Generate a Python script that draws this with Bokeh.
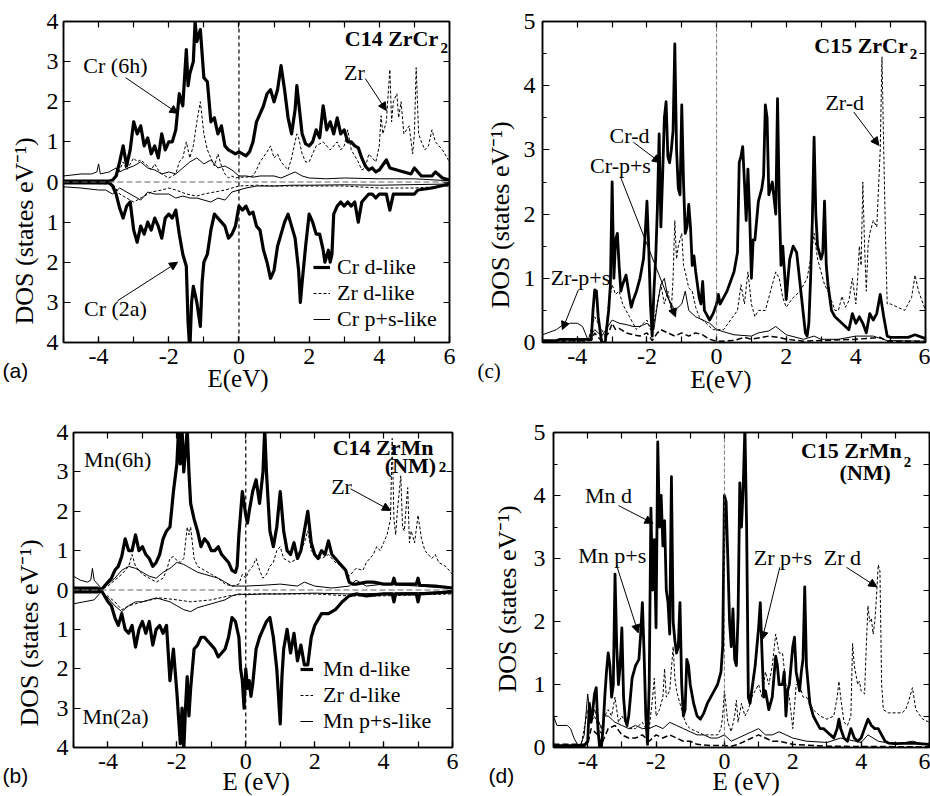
import numpy as np
from bokeh.plotting import figure
from bokeh.models import (Range1d, LinearAxis, FixedTicker, Label, Arrow, NormalHead,
                          Span, Legend, LegendItem, Title)
from bokeh.layouts import column, row
from bokeh.embed import file_html
from bokeh.resources import INLINE

SERIF = "Liberation Serif"
SANS = "Liberation Sans"

# ---------------- tick definitions ----------------
X_TICKS = [-4, -2, 0, 2, 4, 6]
X_LABELS = ["-4", "-2", "0", "2", "4", "6"]
X_MINOR = [-5, -4, -3, -2, -1, 0, 1, 2, 3, 4, 5, 6]
AB_Y_TICKS = [-4, -3, -2, -1, 0, 1, 2, 3, 4]
AB_Y_LABELS = ["4", "3", "2", "1", "0", "1", "2", "3", "4"]
CD_Y_TICKS = [0, 1, 2, 3, 4, 5]
CD_Y_MINOR = [0, 0.5, 1, 1.5, 2, 2.5, 3, 3.5, 4, 4.5, 5]

# ---------------- panel (a) C14 ZrCr2 : (E, DOS) ----------------
A_UP_CRD = [(-5, 0.02), (-3.7, 0.02), (-3.6, 0.05), (-3.5, 0.15), (-3.4, 0.5), (-3.3, 0.9), (-3.2, 0.4),
            (-3.1, 0.8), (-3.0, 1.5), (-2.9, 1.2), (-2.8, 1.4), (-2.7, 0.9), (-2.6, 1.1), (-2.5, 0.7),
            (-2.4, 0.9), (-2.3, 0.6), (-2.2, 1.2), (-2.1, 0.8), (-2.0, 1.0), (-1.9, 1.0), (-1.8, 1.3),
            (-1.7, 2.2), (-1.6, 1.9), (-1.5, 3.3), (-1.45, 2.4), (-1.4, 2.7), (-1.3, 3.0), (-1.25, 4.0),
            (-1.2, 3.5), (-1.1, 3.8), (-1.0, 2.6), (-0.9, 2.5), (-0.8, 1.5), (-0.7, 1.6), (-0.6, 1.2),
            (-0.5, 1.4), (-0.4, 0.9), (-0.3, 0.8), (-0.2, 0.75), (-0.1, 0.7), (0.0, 0.75), (0.1, 0.7),
            (0.2, 0.65), (0.3, 0.75), (0.4, 1.0), (0.5, 1.5), (0.6, 1.7), (0.7, 1.9), (0.8, 2.2),
            (0.9, 2.3), (1.0, 2.0), (1.1, 2.3), (1.2, 2.9), (1.3, 2.3), (1.4, 1.6), (1.5, 1.2),
            (1.6, 1.8), (1.65, 2.4), (1.7, 2.0), (1.8, 1.2), (1.9, 0.95), (2.0, 0.9), (2.1, 1.0),
            (2.2, 1.3), (2.3, 1.1), (2.4, 1.9), (2.5, 1.3), (2.6, 1.5), (2.7, 1.2), (2.8, 1.6),
            (2.9, 1.2), (3.0, 1.3), (3.1, 1.0), (3.2, 1.0), (3.3, 0.9), (3.4, 0.85), (3.5, 0.6),
            (3.6, 0.4), (3.7, 0.3), (3.8, 0.35), (3.9, 0.25), (4.0, 0.3), (4.2, 0.55), (4.3, 0.35),
            (4.5, 0.3), (4.7, 0.25), (4.9, 0.2), (5.0, 0.35), (5.2, 0.15), (5.5, 0.15), (5.6, 0.25),
            (5.8, 0.1), (6.0, 0.05)]
A_UP_ZRD = [(-5, 0.02), (-3.6, 0.03), (-3.5, 0.1), (-3.4, 0.3), (-3.3, 0.5), (-3.2, 0.3), (-3.0, 0.6),
            (-2.9, 0.5), (-2.8, 0.55), (-2.6, 0.4), (-2.5, 0.3), (-2.4, 0.45), (-2.3, 0.3), (-2.2, 0.2),
            (-2.1, 0.15), (-2.0, 0.1), (-1.8, 0.2), (-1.7, 0.5), (-1.6, 0.6), (-1.5, 1.0), (-1.4, 0.6),
            (-1.3, 0.9), (-1.2, 1.5), (-1.1, 2.0), (-1.0, 1.2), (-0.9, 0.8), (-0.8, 0.6), (-0.7, 0.4),
            (-0.6, 0.7), (-0.5, 0.4), (-0.4, 0.2), (-0.3, 0.1), (-0.2, 0.15), (-0.1, 0.1), (0.0, 0.12),
            (0.2, 0.12), (0.4, 0.15), (0.5, 0.3), (0.6, 0.5), (0.8, 0.75), (0.9, 0.9), (1.0, 0.6),
            (1.1, 0.7), (1.2, 0.5), (1.3, 0.4), (1.4, 0.3), (1.5, 0.6), (1.6, 1.0), (1.65, 1.2),
            (1.7, 1.1), (1.8, 0.7), (1.9, 0.5), (2.0, 0.5), (2.2, 0.9), (2.4, 1.0), (2.6, 0.8),
            (2.8, 1.0), (2.9, 0.8), (3.0, 0.9), (3.1, 1.3), (3.2, 0.8), (3.4, 0.5), (3.5, 0.3),
            (3.6, 0.35), (3.7, 0.7), (3.8, 0.6), (3.9, 0.5), (4.0, 0.9), (4.05, 1.65), (4.1, 1.2),
            (4.2, 1.5), (4.3, 2.8), (4.35, 1.5), (4.4, 2.0), (4.5, 2.2), (4.55, 1.6), (4.62, 2.0),
            (4.7, 1.2), (4.85, 1.4), (4.95, 0.7), (5.0, 1.2), (5.05, 2.85), (5.12, 1.2), (5.2, 1.0),
            (5.3, 0.8), (5.4, 0.9), (5.5, 1.3), (5.6, 1.0), (5.8, 0.8), (6.0, 0.5)]
A_UP_CRPS = [(-5, 0.15), (-4.5, 0.2), (-4.2, 0.2), (-4.05, 0.25), (-4.0, 0.45), (-3.95, 0.2), (-3.7, 0.25),
             (-3.5, 0.35), (-3.4, 0.25), (-3.3, 0.3), (-3.0, 0.4), (-2.8, 0.5), (-2.6, 0.35), (-2.4, 0.3),
             (-2.2, 0.2), (-2.0, 0.25), (-1.8, 0.2), (-1.6, 0.35), (-1.4, 0.5), (-1.2, 0.6), (-1.0, 0.45),
             (-0.8, 0.55), (-0.6, 0.35), (-0.4, 0.4), (-0.2, 0.3), (0.0, 0.15), (0.2, 0.15), (0.4, 0.12),
             (0.6, 0.15), (1.0, 0.15), (1.2, 0.1), (1.6, 0.25), (1.8, 0.15), (2.0, 0.1), (2.5, 0.08),
             (3.0, 0.1), (4.0, 0.08), (5.0, 0.08), (6.0, 0.03)]
A_DN_CRD = [(-5, 0.02), (-3.7, 0.02), (-3.6, 0.1), (-3.5, 0.3), (-3.4, 0.65), (-3.3, 0.9), (-3.2, 0.6),
            (-3.1, 0.5), (-3.0, 1.2), (-2.9, 1.5), (-2.8, 1.1), (-2.7, 1.3), (-2.6, 1.0), (-2.5, 1.2),
            (-2.4, 0.9), (-2.3, 1.1), (-2.2, 1.4), (-2.1, 0.9), (-2.0, 0.8), (-1.9, 0.9), (-1.8, 0.7),
            (-1.7, 1.3), (-1.6, 1.8), (-1.5, 2.1), (-1.45, 3.5), (-1.4, 4.2), (-1.35, 3.0), (-1.3, 2.6),
            (-1.2, 3.0), (-1.1, 3.6), (-1.05, 2.5), (-1.0, 2.0), (-0.9, 1.8), (-0.8, 1.2), (-0.7, 0.8),
            (-0.6, 0.9), (-0.5, 1.0), (-0.4, 1.1), (-0.3, 1.4), (-0.2, 1.3), (-0.1, 1.1), (0.0, 0.6),
            (0.1, 0.7), (0.2, 0.6), (0.3, 0.8), (0.4, 0.75), (0.5, 1.1), (0.6, 1.2), (0.7, 1.7),
            (0.8, 2.0), (0.9, 2.4), (1.0, 2.2), (1.1, 1.6), (1.2, 1.3), (1.3, 1.0), (1.4, 0.8),
            (1.5, 1.1), (1.6, 1.4), (1.7, 2.2), (1.75, 3.0), (1.8, 2.5), (1.9, 1.6), (2.0, 0.8),
            (2.1, 1.0), (2.2, 1.3), (2.3, 1.3), (2.4, 1.7), (2.45, 2.0), (2.55, 1.7), (2.6, 2.0),
            (2.65, 1.8), (2.7, 0.8), (2.8, 0.6), (2.9, 0.5), (3.0, 0.6), (3.1, 0.5), (3.2, 0.6),
            (3.3, 0.5), (3.4, 1.0), (3.5, 0.5), (3.6, 0.4), (3.7, 0.3), (3.8, 0.3), (3.9, 0.4),
            (4.0, 0.3), (4.2, 0.3), (4.3, 0.7), (4.4, 0.3), (4.6, 0.3), (5.0, 0.3), (5.1, 0.2),
            (5.5, 0.15), (6.0, 0.05)]
A_DN_CRPS = [(-5, 0.12), (-4.5, 0.15), (-4.0, 0.2), (-3.8, 0.2), (-3.6, 0.3), (-3.4, 0.15), (-3.3, 0.2),
             (-3.0, 0.35), (-2.8, 0.45), (-2.6, 0.25), (-2.4, 0.3), (-2.2, 0.3), (-2.0, 0.3), (-1.8, 0.4),
             (-1.6, 0.35), (-1.4, 0.4), (-1.2, 0.4), (-1.0, 0.45), (-0.8, 0.5), (-0.6, 0.4), (-0.4, 0.45),
             (-0.2, 0.25), (0.0, 0.2), (0.2, 0.15), (0.5, 0.1), (1.0, 0.1), (1.5, 0.08), (2.0, 0.08),
             (3.0, 0.07), (4.0, 0.08), (6.0, 0.05)]
A_DN_ZRD = [(-5, 0.02), (-3.6, 0.05), (-3.4, 0.3), (-3.2, 0.4), (-3.0, 0.5), (-2.9, 0.45), (-2.7, 0.35),
            (-2.5, 0.25), (-2.2, 0.2), (-2.0, 0.15), (-1.8, 0.2), (-1.5, 0.3), (-1.2, 0.35), (-1.0, 0.3),
            (-0.7, 0.25), (-0.4, 0.2), (0.0, 0.1), (0.5, 0.08), (1.0, 0.1), (2.0, 0.1), (3.0, 0.1),
            (4.0, 0.15), (5.0, 0.15), (6.0, 0.1)]

# ---------------- panel (b) C14 ZrMn2 (NM) ----------------
B_UP_MND = [(-5, 0.05), (-4.3, 0.05), (-4.2, 0.0), (-4.0, 0.2), (-3.9, 0.3), (-3.8, 0.5), (-3.7, 0.6),
            (-3.6, 0.85), (-3.5, 1.3), (-3.4, 1.0), (-3.3, 1.0), (-3.2, 1.4), (-3.1, 1.0), (-3.0, 1.1),
            (-2.9, 0.9), (-2.8, 0.8), (-2.7, 0.6), (-2.6, 0.7), (-2.5, 0.9), (-2.4, 1.3), (-2.3, 1.5),
            (-2.2, 1.6), (-2.1, 2.5), (-2.0, 3.2), (-1.95, 4.1), (-1.9, 3.2), (-1.85, 4.1), (-1.8, 3.0),
            (-1.75, 3.5), (-1.7, 4.1), (-1.65, 3.0), (-1.6, 2.2), (-1.5, 1.8), (-1.4, 1.5), (-1.3, 1.1),
            (-1.2, 1.3), (-1.1, 1.2), (-1.0, 1.0), (-0.9, 1.0), (-0.8, 1.1), (-0.7, 0.9), (-0.6, 0.8),
            (-0.5, 0.7), (-0.4, 0.5), (-0.3, 0.45), (-0.25, 0.6), (-0.2, 1.4), (-0.1, 2.5), (0.0, 1.9),
            (0.05, 1.7), (0.1, 2.0), (0.2, 2.5), (0.3, 2.8), (0.4, 2.2), (0.5, 3.0), (0.55, 4.1),
            (0.6, 3.0), (0.7, 1.5), (0.8, 1.1), (0.9, 1.6), (1.0, 2.5), (1.1, 1.5), (1.2, 1.0),
            (1.3, 0.9), (1.4, 1.2), (1.5, 0.8), (1.6, 1.0), (1.7, 1.5), (1.8, 2.0), (1.9, 1.2),
            (2.0, 0.9), (2.1, 0.8), (2.2, 1.0), (2.3, 0.9), (2.4, 1.25), (2.5, 0.9), (2.6, 0.8),
            (2.7, 0.7), (2.8, 0.6), (2.9, 0.5), (3.0, 0.2), (3.1, 0.15), (3.2, 0.15), (3.5, 0.2),
            (3.7, 0.2), (4.0, 0.15), (4.25, 0.15), (4.3, 0.3), (4.35, 0.15), (4.8, 0.15), (4.95, 0.15),
            (5.0, 0.3), (5.05, 0.12), (5.5, 0.1), (6.0, 0.05)]
B_UP_ZRD = [(-5, 0.02), (-4.2, 0.02), (-4.0, 0.1), (-3.8, 0.25), (-3.6, 0.4), (-3.5, 0.5), (-3.4, 0.6),
            (-3.3, 0.9), (-3.2, 0.6), (-3.1, 0.5), (-3.0, 0.4), (-2.8, 0.3), (-2.6, 0.2), (-2.4, 0.3),
            (-2.3, 0.5), (-2.2, 0.8), (-2.1, 0.85), (-2.0, 0.75), (-1.9, 0.7), (-1.8, 0.8), (-1.7, 1.6),
            (-1.65, 1.4), (-1.6, 1.6), (-1.5, 0.8), (-1.4, 0.6), (-1.2, 0.5), (-1.0, 0.4), (-0.8, 0.3),
            (-0.6, 0.15), (-0.4, 0.1), (-0.2, 0.15), (-0.1, 0.4), (0.0, 0.3), (0.1, 0.5), (0.2, 0.6),
            (0.3, 0.8), (0.4, 0.5), (0.5, 0.3), (0.6, 0.4), (0.7, 0.6), (0.8, 0.7), (0.9, 1.0),
            (1.0, 1.1), (1.1, 0.8), (1.3, 0.7), (1.5, 0.8), (1.7, 1.2), (1.8, 1.5), (1.9, 1.0),
            (2.0, 0.9), (2.2, 0.8), (2.4, 0.9), (2.6, 0.7), (2.8, 0.6), (2.9, 0.5), (3.0, 0.35),
            (3.2, 0.55), (3.4, 0.5), (3.5, 0.7), (3.6, 0.8), (3.7, 0.9), (3.8, 1.1), (3.9, 1.0),
            (4.0, 1.2), (4.1, 1.4), (4.2, 1.8), (4.25, 3.85), (4.3, 1.8), (4.35, 1.4), (4.4, 2.0),
            (4.5, 2.9), (4.55, 1.6), (4.6, 1.5), (4.7, 2.6), (4.75, 1.2), (4.8, 1.5), (4.9, 1.2),
            (5.0, 1.9), (5.05, 1.6), (5.1, 1.3), (5.2, 1.0), (5.4, 0.8), (5.5, 0.9), (5.6, 0.7),
            (5.8, 0.6), (6.0, 0.4)]
B_UP_MNPS = [(-5, 0.35), (-4.8, 0.25), (-4.6, 0.2), (-4.5, 0.25), (-4.45, 0.55), (-4.4, 0.25), (-4.3, 0.15),
             (-4.2, 0.05), (-4.0, 0.15), (-3.8, 0.3), (-3.6, 0.5), (-3.4, 0.6), (-3.2, 0.55), (-3.0, 0.45),
             (-2.8, 0.35), (-2.6, 0.3), (-2.4, 0.45), (-2.2, 0.55), (-2.0, 0.7), (-1.8, 0.65), (-1.7, 0.6),
             (-1.6, 0.55), (-1.4, 0.45), (-1.2, 0.4), (-1.0, 0.35), (-0.8, 0.3), (-0.6, 0.2), (-0.4, 0.1),
             (-0.2, 0.1), (0.0, 0.1), (0.5, 0.12), (1.0, 0.15), (1.5, 0.1), (1.7, 0.2), (2.0, 0.1),
             (2.5, 0.05), (3.0, 0.1), (3.2, 0.25), (3.5, 0.1), (4.0, 0.15), (5.0, 0.1), (6.0, 0.05)]
B_DN_MND = [(-5, 0.05), (-4.3, 0.05), (-4.2, 0.0), (-4.0, 0.3), (-3.9, 0.4), (-3.8, 0.7), (-3.7, 0.9),
            (-3.6, 0.6), (-3.5, 1.0), (-3.4, 1.1), (-3.3, 0.9), (-3.2, 1.45), (-3.1, 1.0), (-3.0, 0.8),
            (-2.9, 1.1), (-2.8, 0.8), (-2.7, 1.4), (-2.6, 1.0), (-2.5, 0.9), (-2.4, 1.1), (-2.3, 0.9),
            (-2.2, 2.3), (-2.1, 1.5), (-2.0, 2.6), (-1.9, 3.9), (-1.85, 3.0), (-1.8, 4.1), (-1.75, 3.0),
            (-1.7, 2.2), (-1.65, 3.2), (-1.6, 2.5), (-1.5, 1.5), (-1.4, 1.4), (-1.3, 1.2), (-1.2, 1.2),
            (-1.1, 1.3), (-1.0, 1.4), (-0.9, 1.5), (-0.8, 1.7), (-0.7, 1.6), (-0.6, 1.5), (-0.5, 1.2),
            (-0.4, 0.7), (-0.3, 0.8), (-0.2, 1.2), (-0.15, 2.0), (-0.1, 2.3), (-0.05, 3.0), (0.0, 2.0),
            (0.05, 2.5), (0.1, 2.3), (0.15, 2.7), (0.2, 2.4), (0.3, 1.5), (0.4, 1.2), (0.5, 1.0),
            (0.6, 0.8), (0.7, 0.7), (0.8, 1.2), (0.9, 2.0), (1.0, 3.4), (1.05, 2.2), (1.1, 1.5),
            (1.2, 1.0), (1.3, 1.6), (1.4, 1.1), (1.5, 1.8), (1.6, 1.4), (1.7, 1.9), (1.8, 1.9),
            (1.9, 1.2), (2.0, 0.9), (2.2, 0.6), (2.4, 0.6), (2.6, 0.5), (2.8, 0.3), (3.0, 0.15),
            (3.2, 0.1), (3.5, 0.15), (4.0, 0.1), (4.25, 0.1), (4.3, 0.3), (4.35, 0.1), (4.95, 0.1),
            (5.0, 0.3), (5.05, 0.1), (6.0, 0.05)]
B_DN_MNPS = [(-5, 0.35), (-4.7, 0.3), (-4.4, 0.25), (-4.2, 0.05), (-4.0, 0.2), (-3.8, 0.4), (-3.6, 0.55),
             (-3.4, 0.4), (-3.2, 0.3), (-3.0, 0.3), (-2.8, 0.25), (-2.6, 0.2), (-2.4, 0.25), (-2.2, 0.3),
             (-2.0, 0.4), (-1.8, 0.5), (-1.6, 0.55), (-1.4, 0.45), (-1.2, 0.4), (-1.0, 0.35), (-0.8, 0.3),
             (-0.6, 0.25), (-0.4, 0.15), (-0.2, 0.1), (0.0, 0.12), (0.5, 0.1), (1.0, 0.1), (2.0, 0.08),
             (3.0, 0.1), (6.0, 0.05)]
B_DN_ZRD = [(-5, 0.02), (-4.2, 0.02), (-3.8, 0.3), (-3.6, 0.5), (-3.4, 0.4), (-3.0, 0.3), (-2.5, 0.2),
            (-2.0, 0.25), (-1.6, 0.3), (-1.0, 0.25), (-0.5, 0.15), (0.0, 0.1), (1.0, 0.1), (2.0, 0.1),
            (3.0, 0.15), (4.0, 0.15), (5.0, 0.12), (6.0, 0.1)]

# ---------------- panel (c) C15 ZrCr2 ----------------
C_CRD = [(-5, 0.03), (-4.6, 0.03), (-4.5, 0.05), (-3.6, 0.05), (-3.55, 0.5), (-3.5, 0.82), (-3.45, 0.8),
         (-3.4, 0.4), (-3.35, 0.2), (-3.3, 0.0), (-3.2, 0.0), (-3.1, 0.5), (-3.05, 0.9), (-3.0, 2.5),
         (-2.95, 1.0), (-2.9, 1.6), (-2.85, 1.7), (-2.8, 1.2), (-2.75, 0.8), (-2.7, 0.9), (-2.6, 1.05),
         (-2.5, 0.7), (-2.45, 0.55), (-2.4, 0.65), (-2.3, 0.8), (-2.2, 1.0), (-2.1, 1.3), (-2.05, 1.7),
         (-2.0, 2.2), (-1.95, 1.5), (-1.9, 0.6), (-1.85, 0.1), (-1.8, 0.8), (-1.75, 1.3), (-1.7, 2.1),
         (-1.65, 3.25), (-1.6, 1.8), (-1.55, 2.6), (-1.5, 3.5), (-1.45, 3.75), (-1.4, 2.9), (-1.35, 2.8),
         (-1.3, 3.0), (-1.25, 3.3), (-1.2, 4.65), (-1.15, 3.0), (-1.1, 2.4), (-1.05, 2.3), (-1.0, 3.7),
         (-0.95, 2.5), (-0.9, 1.7), (-0.85, 1.8), (-0.8, 2.15), (-0.75, 1.8), (-0.7, 1.2), (-0.65, 1.35),
         (-0.6, 1.1), (-0.5, 0.7), (-0.45, 0.6), (-0.4, 0.95), (-0.35, 0.5), (-0.3, 0.45), (-0.2, 0.35),
         (-0.1, 0.45), (0.0, 0.6), (0.05, 0.75), (0.1, 0.6), (0.2, 0.7), (0.3, 0.8), (0.4, 0.95),
         (0.5, 1.1), (0.6, 1.4), (0.65, 2.8), (0.7, 2.9), (0.75, 3.05), (0.8, 2.5), (0.85, 1.9),
         (0.9, 2.7), (0.95, 2.0), (1.0, 1.0), (1.05, 1.6), (1.1, 1.6), (1.2, 2.2), (1.3, 2.4),
         (1.35, 2.6), (1.4, 3.7), (1.45, 3.5), (1.5, 2.3), (1.6, 2.5), (1.7, 2.0), (1.75, 3.8),
         (1.8, 2.2), (1.85, 1.2), (1.9, 1.5), (1.95, 1.1), (2.0, 0.67), (2.05, 1.0), (2.1, 1.3),
         (2.2, 1.5), (2.3, 1.4), (2.4, 0.9), (2.5, 0.4), (2.55, 0.15), (2.6, 0.1), (2.65, 0.3),
         (2.7, 1.0), (2.75, 1.9), (2.8, 3.2), (2.85, 2.0), (2.9, 1.5), (3.0, 1.3), (3.05, 1.4),
         (3.1, 2.2), (3.15, 1.2), (3.2, 0.9), (3.3, 0.5), (3.4, 0.4), (3.5, 0.35), (3.6, 0.3),
         (3.7, 0.25), (3.8, 0.2), (3.9, 0.45), (4.0, 0.3), (4.1, 0.4), (4.2, 0.3), (4.3, 0.15),
         (4.4, 0.45), (4.5, 0.35), (4.6, 0.45), (4.7, 0.75), (4.8, 0.4), (4.9, 0.1), (5.0, 0.08),
         (5.5, 0.08), (5.7, 0.12), (6.0, 0.06)]
C_ZRD = [(-5, 0.02), (-3.7, 0.02), (-3.5, 0.4), (-3.4, 0.3), (-3.2, 0.1), (-3.1, 0.6), (-3.0, 0.9),
         (-2.9, 0.75), (-2.8, 0.8), (-2.7, 0.6), (-2.5, 0.4), (-2.3, 0.2), (-2.1, 0.3), (-2.0, 0.35),
         (-1.9, 0.2), (-1.8, 0.3), (-1.7, 0.6), (-1.6, 0.9), (-1.5, 0.6), (-1.4, 0.8), (-1.3, 0.5),
         (-1.25, 1.0), (-1.2, 1.9), (-1.15, 1.3), (-1.1, 1.5), (-1.0, 1.7), (-0.95, 1.2), (-0.9, 1.1),
         (-0.8, 0.85), (-0.7, 0.8), (-0.6, 0.55), (-0.5, 0.4), (-0.4, 0.35), (-0.3, 0.3), (-0.2, 0.25),
         (-0.1, 0.2), (0.0, 0.2), (0.2, 0.2), (0.4, 0.35), (0.6, 0.5), (0.7, 0.9), (0.8, 0.6),
         (0.9, 1.1), (1.0, 0.6), (1.1, 0.4), (1.2, 0.5), (1.4, 0.5), (1.6, 0.9), (1.7, 1.1),
         (1.8, 1.0), (1.9, 0.7), (2.0, 0.55), (2.2, 0.7), (2.4, 0.8), (2.6, 1.0), (2.7, 1.3),
         (2.8, 1.7), (2.9, 1.3), (3.0, 1.1), (3.1, 0.9), (3.2, 0.8), (3.4, 0.5), (3.5, 0.5),
         (3.6, 0.72), (3.7, 0.55), (3.8, 0.65), (3.9, 1.0), (4.0, 0.6), (4.05, 1.0), (4.1, 1.5),
         (4.15, 1.2), (4.2, 2.5), (4.25, 1.5), (4.3, 0.8), (4.35, 1.5), (4.4, 1.7), (4.5, 1.9),
         (4.6, 1.8), (4.7, 3.0), (4.75, 4.45), (4.8, 3.0), (4.85, 1.7), (4.9, 0.6), (5.0, 0.6),
         (5.2, 0.55), (5.4, 0.5), (5.6, 0.7), (5.7, 1.05), (5.8, 0.8), (6.0, 0.5)]
C_ZRPS = [(-5, 0.12), (-4.6, 0.2), (-4.4, 0.28), (-4.2, 0.3), (-4.0, 0.3), (-3.85, 0.25), (-3.7, 0.05),
          (-3.5, 0.2), (-3.3, 0.1), (-3.0, 0.35), (-2.8, 0.3), (-2.6, 0.28), (-2.4, 0.25), (-2.2, 0.25),
          (-2.0, 0.3), (-1.8, 0.2), (-1.7, 0.6), (-1.6, 0.9), (-1.5, 1.0), (-1.4, 0.7), (-1.3, 0.6),
          (-1.2, 0.5), (-1.0, 0.6), (-0.9, 0.8), (-0.8, 0.5), (-0.6, 0.4), (-0.4, 0.35), (-0.2, 0.3),
          (0.0, 0.2), (0.5, 0.12), (1.0, 0.1), (1.2, 0.15), (1.5, 0.18), (1.7, 0.25), (2.0, 0.12),
          (2.5, 0.05), (2.8, 0.1), (3.0, 0.05), (3.5, 0.05), (4.0, 0.1), (4.5, 0.1), (4.9, 0.03),
          (6.0, 0.02)]
C_CRPS = [(-5, 0.02), (-3.6, 0.03), (-3.5, 0.15), (-3.4, 0.08), (-3.3, 0.03), (-3.1, 0.15), (-3.0, 0.3),
          (-2.9, 0.2), (-2.8, 0.22), (-2.6, 0.15), (-2.4, 0.12), (-2.2, 0.1), (-2.0, 0.15), (-1.85, 0.03),
          (-1.7, 0.15), (-1.6, 0.2), (-1.4, 0.15), (-1.2, 0.1), (-1.0, 0.15), (-0.8, 0.1), (-0.6, 0.15),
          (-0.4, 0.12), (-0.2, 0.05), (0.0, 0.02), (0.5, 0.03), (0.8, 0.08), (1.0, 0.05), (1.5, 0.1),
          (1.8, 0.08), (2.0, 0.05), (2.5, 0.02), (3.0, 0.03), (4.0, 0.05), (4.7, 0.08), (4.9, 0.02),
          (6.0, 0.02)]

# ---------------- panel (d) C15 ZrMn2 (NM) ----------------
D_MND = [(-5, 0.03), (-4.1, 0.03), (-4.0, 0.1), (-3.95, 0.7), (-3.9, 0.4), (-3.85, 0.6), (-3.8, 0.85),
         (-3.75, 0.95), (-3.7, 0.3), (-3.65, 0.0), (-3.6, 0.0), (-3.55, 0.3), (-3.5, 0.8), (-3.45, 1.2),
         (-3.4, 1.5), (-3.35, 1.3), (-3.3, 0.8), (-3.25, 1.0), (-3.2, 2.75), (-3.15, 1.6), (-3.1, 1.0),
         (-3.05, 1.3), (-3.0, 1.9), (-2.95, 0.8), (-2.9, 0.45), (-2.85, 0.35), (-2.8, 0.5), (-2.7, 1.1),
         (-2.6, 1.3), (-2.5, 1.4), (-2.45, 1.8), (-2.4, 2.3), (-2.35, 1.5), (-2.3, 0.5), (-2.25, 0.05),
         (-2.2, 1.0), (-2.15, 3.8), (-2.1, 2.5), (-2.05, 3.3), (-2.0, 1.9), (-1.95, 4.85), (-1.9, 3.5),
         (-1.85, 4.0), (-1.8, 3.2), (-1.75, 3.6), (-1.7, 2.5), (-1.65, 2.3), (-1.6, 1.8), (-1.55, 4.3),
         (-1.5, 2.0), (-1.45, 1.7), (-1.4, 1.5), (-1.35, 1.6), (-1.3, 2.3), (-1.25, 1.0), (-1.2, 0.5),
         (-1.15, 0.6), (-1.1, 1.4), (-1.05, 1.3), (-1.0, 1.0), (-0.9, 0.7), (-0.8, 0.5), (-0.7, 0.45),
         (-0.6, 0.55), (-0.5, 0.7), (-0.4, 0.8), (-0.3, 0.9), (-0.2, 1.0), (-0.1, 1.2), (-0.05, 1.6),
         (0.0, 4.0), (0.05, 3.9), (0.1, 3.0), (0.15, 2.0), (0.2, 1.6), (0.25, 2.2), (0.3, 1.4),
         (0.35, 1.3), (0.4, 2.1), (0.45, 4.2), (0.5, 3.5), (0.55, 4.15), (0.6, 5.1), (0.65, 3.5),
         (0.7, 0.8), (0.75, 0.7), (0.8, 0.9), (0.9, 1.3), (1.0, 1.9), (1.05, 2.3), (1.1, 1.5),
         (1.15, 0.8), (1.2, 0.9), (1.3, 0.6), (1.4, 0.8), (1.5, 1.45), (1.55, 1.3), (1.6, 1.0),
         (1.7, 1.0), (1.75, 1.2), (1.8, 0.5), (1.85, 0.9), (1.9, 1.0), (2.0, 1.6), (2.05, 1.75),
         (2.1, 1.2), (2.2, 0.9), (2.25, 1.2), (2.3, 1.4), (2.35, 2.55), (2.4, 1.3), (2.5, 0.7),
         (2.6, 0.5), (2.7, 0.4), (2.8, 0.3), (2.9, 0.3), (3.0, 0.25), (3.1, 0.2), (3.2, 0.15),
         (3.3, 0.3), (3.35, 0.45), (3.4, 0.3), (3.5, 0.15), (3.6, 0.1), (3.7, 0.3), (3.8, 0.15),
         (3.9, 0.1), (4.0, 0.15), (4.1, 0.3), (4.2, 0.45), (4.3, 0.35), (4.4, 0.3), (4.5, 0.3),
         (4.6, 0.2), (4.7, 0.1), (4.8, 0.07), (5.0, 0.06), (5.5, 0.07), (6.0, 0.05)]
D_ZRD = [(-5, 0.02), (-4.2, 0.02), (-4.0, 0.6), (-3.9, 0.4), (-3.8, 0.5), (-3.6, 0.2), (-3.5, 0.5),
         (-3.4, 0.6), (-3.3, 0.5), (-3.2, 0.8), (-3.1, 0.4), (-3.0, 0.5), (-2.9, 0.4), (-2.8, 0.3),
         (-2.6, 0.3), (-2.4, 0.4), (-2.3, 0.3), (-2.2, 0.3), (-2.1, 0.8), (-2.05, 1.1), (-2.0, 0.5),
         (-1.9, 0.6), (-1.8, 0.8), (-1.75, 1.25), (-1.7, 0.8), (-1.6, 0.9), (-1.5, 1.6), (-1.45, 1.1),
         (-1.4, 0.9), (-1.3, 0.7), (-1.2, 0.5), (-1.1, 0.35), (-1.0, 0.3), (-0.8, 0.25), (-0.6, 0.2),
         (-0.4, 0.2), (-0.2, 0.2), (-0.1, 0.3), (-0.05, 0.5), (0.0, 0.9), (0.1, 0.4), (0.2, 0.25),
         (0.3, 0.5), (0.35, 0.75), (0.4, 0.4), (0.5, 0.7), (0.6, 0.5), (0.7, 0.6), (0.8, 0.8),
         (0.9, 0.9), (1.0, 1.0), (1.1, 0.8), (1.2, 1.2), (1.3, 1.0), (1.4, 1.3), (1.5, 1.8),
         (1.6, 1.5), (1.7, 1.5), (1.8, 1.0), (1.9, 0.8), (2.0, 0.3), (2.1, 1.0), (2.2, 1.0),
         (2.3, 0.8), (2.4, 0.8), (2.6, 0.6), (2.8, 0.5), (3.0, 0.45), (3.2, 0.5), (3.3, 0.8),
         (3.35, 1.05), (3.4, 0.8), (3.5, 0.4), (3.6, 0.35), (3.7, 0.5), (3.75, 1.65), (3.8, 1.3),
         (3.9, 1.0), (3.95, 1.05), (4.0, 0.9), (4.1, 0.85), (4.15, 1.6), (4.2, 2.25), (4.25, 2.0),
         (4.3, 2.05), (4.35, 1.8), (4.4, 2.0), (4.45, 2.4), (4.5, 2.9), (4.55, 2.8), (4.6, 1.0),
         (4.65, 0.6), (4.8, 0.55), (5.0, 0.55), (5.2, 0.55), (5.3, 0.6), (5.4, 0.75), (5.5, 0.95),
         (5.6, 0.6), (5.8, 0.45), (6.0, 0.4)]
D_MNPS = [(-5, 0.5), (-4.9, 0.35), (-4.6, 0.35), (-4.5, 0.3), (-4.4, 0.15), (-4.3, 0.05), (-4.2, 0.05),
          (-4.1, 0.2), (-4.0, 0.85), (-3.9, 0.4), (-3.8, 0.6), (-3.6, 0.3), (-3.5, 0.5), (-3.4, 0.5),
          (-3.2, 0.4), (-3.0, 0.35), (-2.8, 0.3), (-2.6, 0.35), (-2.4, 0.3), (-2.2, 0.3), (-2.0, 0.35),
          (-1.8, 0.3), (-1.6, 0.4), (-1.4, 0.35), (-1.2, 0.3), (-1.0, 0.25), (-0.8, 0.2), (-0.6, 0.2),
          (-0.4, 0.15), (-0.2, 0.15), (0.0, 0.2), (0.2, 0.1), (0.4, 0.15), (0.6, 0.2), (0.8, 0.25),
          (1.0, 0.3), (1.2, 0.2), (1.4, 0.2), (1.6, 0.25), (1.8, 0.2), (2.0, 0.15), (2.4, 0.1),
          (3.0, 0.08), (3.4, 0.15), (4.0, 0.08), (4.2, 0.2), (4.5, 0.1), (5.0, 0.05), (5.5, 0.1),
          (6.0, 0.03)]
D_ZRPS = [(-5, 0.05), (-4.0, 0.05), (-3.9, 0.3), (-3.7, 0.2), (-3.6, 0.05), (-3.4, 0.3), (-3.2, 0.35),
          (-3.0, 0.2), (-2.8, 0.15), (-2.6, 0.15), (-2.4, 0.2), (-2.2, 0.1), (-2.0, 0.2), (-1.8, 0.15),
          (-1.6, 0.2), (-1.4, 0.15), (-1.2, 0.1), (-1.0, 0.1), (-0.8, 0.05), (-0.4, 0.03), (0.0, 0.03),
          (0.2, 0.02), (0.4, 0.05), (0.6, 0.1), (0.8, 0.15), (1.0, 0.2), (1.2, 0.15), (1.4, 0.1),
          (1.6, 0.1), (2.0, 0.05), (3.0, 0.02), (6.0, 0.01)]


def xy(pairs, sign=1.0):
    e = np.array([q[0] for q in pairs], dtype=float)
    d = np.array([q[1] for q in pairs], dtype=float) * sign
    return e, d


def make_fig(width, height, left, right, top, bottom, y0, y1):
    p = figure(width=width, height=height, x_range=Range1d(-5, 6), y_range=Range1d(y0, y1),
               output_backend="svg", toolbar_location=None,
               min_border_left=left, min_border_right=right,
               min_border_top=top, min_border_bottom=bottom)
    p.xgrid.visible = False
    p.ygrid.visible = False
    p.outline_line_color = "black"
    p.outline_line_width = 1.5
    p.background_fill_color = "white"
    p.border_fill_color = "white"
    return p


def setup_axes(p, yticks, yminor, yright, y_overrides=None, ystand=5, xstand=6, fs="24px"):
    xb = p.xaxis[0]
    yl = p.yaxis[0]
    xt = LinearAxis()
    yr = LinearAxis()
    p.add_layout(xt, "above")
    p.add_layout(yr, "right")
    xb.ticker = FixedTicker(ticks=X_TICKS, minor_ticks=X_MINOR)
    xt.ticker = FixedTicker(ticks=[], minor_ticks=X_MINOR)
    yl.ticker = FixedTicker(ticks=yticks, minor_ticks=yminor)
    yr.ticker = FixedTicker(ticks=[], minor_ticks=yright)
    for ax in (xb, xt):
        ax.major_tick_in = 6
        ax.minor_tick_in = 6
    yl.major_tick_in = 7
    yl.minor_tick_in = 4
    yr.minor_tick_in = 6
    for ax in (xb, xt, yl, yr):
        ax.axis_line_color = "black"
        ax.axis_line_width = 1.5
        ax.major_tick_line_color = "black"
        ax.minor_tick_line_color = "black"
        ax.major_tick_line_width = 1.2
        ax.minor_tick_line_width = 1.2
        ax.major_tick_out = 0
        ax.minor_tick_out = 0
        ax.major_label_text_font = SERIF
        ax.major_label_text_font_size = fs
        ax.major_label_text_color = "black"
    xb.major_label_standoff = xstand
    yl.major_label_standoff = ystand
    xb.major_label_overrides = {t: s for t, s in zip(X_TICKS, X_LABELS)}
    if y_overrides is not None:
        yl.major_label_overrides = y_overrides


def add_titles(p, xlabel, x_off, letter, letter_font, letter_off, y_off, y_st, let_st, e_st):
    # y-axis title (rotated, placed in left panel)
    p.add_layout(Title(text="DOS (states eV\u207b\u00b9)", align="left", offset=y_off, standoff=y_st,
                       vertical_align="middle", text_font=SERIF, text_font_size="26px",
                       text_font_style="normal", text_color="black"), "left")
    # panel letter, just under the tick labels
    p.add_layout(Title(text=letter, align="left", offset=letter_off, standoff=let_st,
                       vertical_align="top", text_font=letter_font, text_font_size="21px",
                       text_font_style="normal", text_color="black"), "below")
    # x-axis title
    p.add_layout(Title(text=xlabel, align="left", offset=x_off, standoff=e_st,
                       vertical_align="top", text_font=SERIF, text_font_size="25px",
                       text_font_style="normal", text_color="black"), "below")


def txt(p, x, y, s, size="22px", font=SERIF, style="normal", align="center"):
    p.add_layout(Label(x=x, y=y, text=s, text_font=font, text_font_size=size,
                       text_font_style=style, text_align=align, text_baseline="middle",
                       text_color="black"))


def arrow(p, x0, y0, x1, y1):
    p.add_layout(Arrow(end=NormalHead(size=8, fill_color="black", line_color="black", line_width=1),
                       x_start=x0, y_start=y0, x_end=x1, y_end=y1,
                       line_color="black", line_width=1))


def thick(p, pairs, sign=1.0, w=2.8):
    e, d = xy(pairs, sign)
    return p.line(e, d, line_color="black", line_width=w, line_join="round")


def thin(p, pairs, sign=1.0):
    e, d = xy(pairs, sign)
    return p.line(e, d, line_color="black", line_width=1.0)


def dotted(p, pairs, sign=1.0):
    e, d = xy(pairs, sign)
    return p.line(e, d, line_color="black", line_width=1.0, line_dash="3 2")


def dashed(p, pairs, sign=1.0):
    e, d = xy(pairs, sign)
    return p.line(e, d, line_color="black", line_width=1.5, line_dash="6 3")


def make_legend(p, items, loc, glyph_w, standoff):
    lg = Legend(items=[LegendItem(label=t, renderers=[r]) for t, r in items], location=loc)
    lg.background_fill_alpha = 0
    lg.border_line_alpha = 0
    lg.padding = 0
    lg.margin = 0
    lg.spacing = 0
    lg.glyph_width = glyph_w
    lg.glyph_height = 18
    lg.label_height = 18
    lg.label_standoff = standoff
    lg.label_text_font = SERIF
    lg.label_text_font_size = "22px"
    lg.label_text_line_height = 0.9
    lg.label_text_color = "black"
    p.add_layout(lg)


AB_OVERRIDES = {t: s for t, s in zip(AB_Y_TICKS, AB_Y_LABELS)}

# ================= panel (a) =================
pa = make_fig(465, 400, 63, 16, 21, 58, -4, 4)
setup_axes(pa, AB_Y_TICKS, [], AB_Y_TICKS, AB_OVERRIDES, ystand=5, xstand=6)
add_titles(pa, "E(eV)", 144, "(a)", SANS, -61, 18, 7, -15, -23)
pa.add_layout(Span(location=0, dimension="width", line_color="#666666", line_dash="6 3", line_width=1))
pa.add_layout(Span(location=0, dimension="height", line_color="black", line_dash="4 3", line_width=1.2))
dotted(pa, A_DN_ZRD, -1)
thin(pa, A_DN_CRPS, -1)
thick(pa, A_DN_CRD, -1, 3.2)
ra_z = dotted(pa, A_UP_ZRD)
ra_p = thin(pa, A_UP_CRPS)
ra_d = thick(pa, A_UP_CRD, 1.0, 3.2)
make_legend(pa, [("Cr d-like", ra_d), ("Zr d-like", ra_z), ("Cr p+s-like", ra_p)], (250, 10), 17, 7)
txt(pa, -3.52, 2.9, "Cr (6h)")
txt(pa, -3.52, -3.15, "Cr (2a)")
txt(pa, 3.29, 2.73, "Zr")
arrow(pa, -3.23, 2.6, -1.74, 1.71)
arrow(pa, -3.46, -2.96, -1.75, -2.0)
arrow(pa, 3.6, 2.58, 4.2, 1.78)
txt(pa, 5.68, 3.58, "C14 ZrCr", style="bold", align="right")
txt(pa, 5.74, 3.33, "2", size="15px", style="bold", align="left")

# ================= panel (c) =================
pc = make_fig(465, 400, 77, 5, 21, 57, 0, 5)
setup_axes(pc, CD_Y_TICKS, CD_Y_MINOR, CD_Y_MINOR, None, ystand=7, xstand=6)
add_titles(pc, "E(eV)", 148, "(c)", SERIF, -65, 34, 9, -15, -23)
pc.add_layout(Span(location=0, dimension="height", line_color="#555555", line_dash="4 2", line_width=0.8))
dashed(pc, C_CRPS)
thin(pc, C_ZRPS)
dotted(pc, C_ZRD)
thick(pc, C_CRD)
txt(pc, -2.5, 3.23, "Cr-d")
txt(pc, -2.76, 2.76, "Cr-p+s")
txt(pc, -3.91, 1.01, "Zr-p+s")
txt(pc, 3.68, 3.74, "Zr-d")
arrow(pc, -2.39, 3.12, -1.61, 2.8)
arrow(pc, -2.76, 2.58, -1.18, 0.4)
arrow(pc, -3.97, 0.82, -4.43, 0.2)
arrow(pc, 3.94, 3.59, 4.66, 3.07)
txt(pc, 5.49, 4.63, "C15 ZrCr", style="bold", align="right")
txt(pc, 5.55, 4.49, "2", size="15px", style="bold", align="left")

# ================= panel (b) =================
pb = make_fig(465, 396, 73, 13, 28, 49, -4, 4)
setup_axes(pb, AB_Y_TICKS, [], AB_Y_TICKS, AB_OVERRIDES, ystand=5, xstand=6)
add_titles(pb, "E (eV)", 149, "(b)", SANS, -71, 21, 17, -16, -26)
pb.add_layout(Span(location=0, dimension="width", line_color="#666666", line_dash="6 3", line_width=1))
pb.add_layout(Span(location=0, dimension="height", line_color="black", line_dash="4 3", line_width=1.2))
dotted(pb, B_DN_ZRD, -1)
thin(pb, B_DN_MNPS, -1)
thick(pb, B_DN_MND, -1, 3.2)
rb_z = dotted(pb, B_UP_ZRD)
rb_p = thin(pb, B_UP_MNPS)
rb_d = thick(pb, B_UP_MND, 1.0, 3.2)
make_legend(pb, [("Mn d-like", rb_d), ("Zr d-like", rb_z), ("Mn p+s-like", rb_p)], (227, 13), 13, 10)
txt(pb, -3.72, 3.32, "Mn(6h)")
txt(pb, -3.78, -3.2, "Mn(2a)")
txt(pb, 2.78, 2.64, "Zr")
arrow(pb, 3.04, 2.57, 4.2, 2.02)
txt(pb, 5.45, 3.62, "C14 ZrMn", style="bold", align="right")
txt(pb, 4.78, 3.15, "(NM)", style="bold")
txt(pb, 5.6, 3.12, "2", size="15px", style="bold", align="left")

# ================= panel (d) =================
pd_ = make_fig(465, 396, 88, 1, 32, 48, 0, 5)
setup_axes(pd_, CD_Y_TICKS, CD_Y_MINOR, CD_Y_MINOR, None, ystand=8, xstand=6)
add_titles(pd_, "E (eV)", 159, "(d)", SANS, -65, 55, 15, -16, -26)
pd_.add_layout(Span(location=0, dimension="height", line_color="#555555", line_dash="4 2", line_width=0.8))
dashed(pd_, D_ZRPS)
thin(pd_, D_MNPS)
dotted(pd_, D_ZRD)
thick(pd_, D_MND)
txt(pd_, -3.39, 4.0, "Mn d")
txt(pd_, -3.28, 3.05, "Mn p+s")
txt(pd_, 1.71, 3.02, "Zr p+s")
txt(pd_, 3.45, 3.02, "Zr d")
arrow(pd_, -3.1, 3.84, -2.09, 3.56)
arrow(pd_, -3.16, 2.9, -2.52, 1.82)
arrow(pd_, 1.62, 2.86, 1.1, 1.71)
arrow(pd_, 3.57, 2.86, 4.46, 2.55)
txt(pd_, 5.19, 4.72, "C15 ZrMn", style="bold", align="right")
txt(pd_, 5.25, 4.53, "2", size="15px", style="bold", align="left")
txt(pd_, 4.12, 4.37, "(NM)", style="bold")

layout = column(row(pa, pc), row(pb, pd_))
open("out.html", "w").write(file_html(layout, INLINE))
